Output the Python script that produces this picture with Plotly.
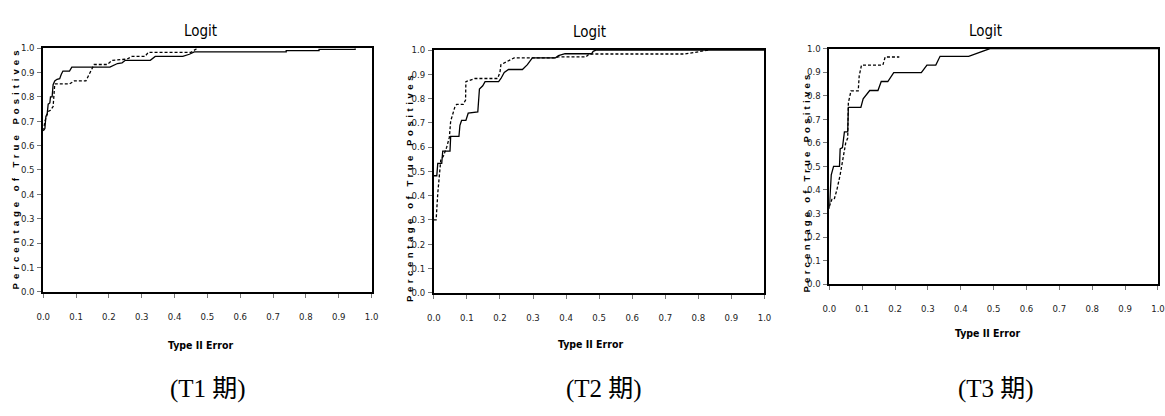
import json
import plotly.graph_objects as go

# ---------------- data ----------------
TICK_VALUES = [0.0, 0.1, 0.2, 0.3, 0.4, 0.5, 0.6, 0.7, 0.8, 0.9, 1.0]

T1_SOLID_X = [0, 0.005, 0.008, 0.012, 0.015, 0.02, 0.022, 0.027, 0.03, 0.035, 0.042, 0.05, 0.055, 0.06,
              0.08, 0.087, 0.203, 0.216, 0.226, 0.24, 0.25, 0.326, 0.341, 0.425, 0.445, 0.46, 0.74, 0.74,
              0.84, 0.84, 0.95, 0.95]
T1_SOLID_Y = [0.66, 0.67, 0.72, 0.73, 0.77, 0.775, 0.80, 0.80, 0.85, 0.865, 0.872, 0.875, 0.893, 0.906,
              0.906, 0.922, 0.922, 0.93, 0.937, 0.94, 0.95, 0.95, 0.966, 0.966, 0.975, 0.985, 0.985, 0.99,
              0.99, 0.995, 0.995, 1.0]
T1_DASH_X = [0, 0.005, 0.01, 0.015, 0.022, 0.025, 0.03, 0.035, 0.08, 0.095, 0.13, 0.14, 0.155, 0.195,
             0.21, 0.255, 0.27, 0.31, 0.32, 0.45, 0.46, 0.47]
T1_DASH_Y = [0.66, 0.70, 0.72, 0.74, 0.745, 0.75, 0.76, 0.853, 0.853, 0.866, 0.866, 0.893, 0.933, 0.933,
             0.95, 0.955, 0.966, 0.966, 0.983, 0.983, 0.993, 1.0]

T2_SOLID_X = [0, 0.009, 0.012, 0.024, 0.027, 0.049, 0.051, 0.076, 0.079, 0.084, 0.097, 0.104, 0.133,
              0.138, 0.148, 0.155, 0.196, 0.203, 0.213, 0.226, 0.268, 0.283, 0.298, 0.368, 0.377, 0.397,
              0.477, 0.482, 0.49, 1.0]
T2_SOLID_Y = [0.482, 0.482, 0.533, 0.533, 0.584, 0.584, 0.644, 0.644, 0.69, 0.71, 0.71, 0.74, 0.745,
              0.84, 0.853, 0.87, 0.87, 0.883, 0.908, 0.92, 0.92, 0.94, 0.968, 0.968, 0.977, 0.985,
              0.985, 0.995, 1.0, 1.0]
T2_DASH_X = [0, 0.007, 0.012, 0.017, 0.021, 0.03, 0.039, 0.047, 0.051, 0.064, 0.069, 0.089, 0.096,
             0.097, 0.124, 0.193, 0.2, 0.203, 0.223, 0.243, 0.37, 0.375, 0.46, 0.47, 0.76, 0.79, 0.8, 0.83]
T2_DASH_Y = [0.30, 0.30, 0.41, 0.48, 0.546, 0.566, 0.60, 0.64, 0.707, 0.767, 0.776, 0.776, 0.794,
             0.87, 0.883, 0.883, 0.908, 0.94, 0.954, 0.968, 0.968, 0.972, 0.972, 0.984, 0.984, 0.99,
             0.995, 1.0]

T3_SOLID_X = [0, 0.006, 0.013, 0.031, 0.033, 0.04, 0.046, 0.056, 0.058, 0.096, 0.103, 0.123, 0.148,
              0.158, 0.178, 0.196, 0.28, 0.297, 0.324, 0.337, 0.424, 0.489, 1.0]
T3_SOLID_Y = [0.32, 0.464, 0.50, 0.50, 0.574, 0.58, 0.646, 0.646, 0.75, 0.75, 0.787, 0.822, 0.822,
              0.86, 0.86, 0.898, 0.898, 0.93, 0.93, 0.967, 0.967, 1.0, 1.0]
T3_DASH_X = [0, 0.008, 0.015, 0.023, 0.033, 0.043, 0.05, 0.056, 0.058, 0.066, 0.088, 0.091, 0.098,
             0.163, 0.17, 0.213]
T3_DASH_Y = [0.33, 0.36, 0.36, 0.40, 0.464, 0.554, 0.60, 0.62, 0.77, 0.82, 0.82, 0.884, 0.93,
             0.93, 0.964, 0.964]

PANEL_TITLES = ["Logit", "Logit", "Logit"]
X_TITLE = "Type II Error"
Y_TITLE = "Percentage of True Positives"
CAPTIONS = ["(T1 期)", "(T2 期)", "(T3 期)"]

# ---------------- layout helpers ----------------
W, H = 1165, 416


def px(x):
    return x / W


def py(y):
    return 1 - y / H


# plot areas in pixels: (left, right, top, bottom)
AREAS = [(36.7, 369.0, 43.3, 293.5), (432.0, 766.7, 45.3, 294.5), (832.3, 1165.0, 43.7, 285.7)]
TITLE_POS = [(196, 26), (590, 27), (990, 26)]
YLAB_POS = [(15, 168, 243), (409, 187, 230), (806, 182, 221)]  # centre x, centre y, length
XLAB_POS = [(196, 348), (591, 347), (992, 336)]
CAP_POS = [(203, 393), (604, 393), (1001, 393)]

SERIES = [
    (T1_SOLID_X, T1_SOLID_Y, T1_DASH_X, T1_DASH_Y),
    (T2_SOLID_X, T2_SOLID_Y, T2_DASH_X, T2_DASH_Y),
    (T3_SOLID_X, T3_SOLID_Y, T3_DASH_X, T3_DASH_Y),
]

NARROW = "Liberation Sans Narrow, Arial Narrow, DejaVu Sans Condensed, sans-serif"

fig = go.Figure()
layout = dict(
    width=W, height=H, autosize=False,
    margin=dict(l=0, r=0, t=0, b=0),
    paper_bgcolor="white", plot_bgcolor="white",
    showlegend=False,
    annotations=[],
)

for i, (sx, sy, dx, dy) in enumerate(SERIES):
    n = "" if i == 0 else str(i + 1)
    xa, ya = "x" + n, "y" + n
    fig.add_trace(go.Scatter(x=sx, y=sy, mode="lines", xaxis=xa, yaxis=ya,
                             line=dict(color="black", width=1.3), hoverinfo="skip"))
    fig.add_trace(go.Scatter(x=dx, y=dy, mode="lines", xaxis=xa, yaxis=ya,
                             line=dict(color="black", width=1.3, dash="3px,2px"), hoverinfo="skip"))
    l, r, t, b = AREAS[i]
    common = dict(range=[0, 1], showgrid=False, zeroline=False, showline=True, linecolor="black",
                  linewidth=1.6, mirror=True, ticks="outside", tickcolor="#777", ticklen=4,
                  tickvals=TICK_VALUES, tickformat=".1f",
                  tickfont=dict(family=NARROW, size=9.5, color="#222"))
    layout["xaxis" + n] = dict(common, domain=[px(l), px(r)], anchor=ya, ticklabelstandoff=11,
                               ticklabeloverflow="allow")
    layout["yaxis" + n] = dict(common, domain=[py(b), py(t)], anchor=xa, ticklabelstandoff=1)

    layout["annotations"] += [
        dict(text=PANEL_TITLES[i], x=px(TITLE_POS[i][0]), y=py(TITLE_POS[i][1]), xref="paper", yref="paper",
             showarrow=False, xanchor="center", yanchor="middle",
             font=dict(family=NARROW, size=15, color="black")),
        dict(text=Y_TITLE, x=px(YLAB_POS[i][0]), y=py(YLAB_POS[i][1]), xref="paper", yref="paper",
             showarrow=False, textangle=-90, xanchor="center", yanchor="middle",
             font=dict(family="Liberation Sans, Arial, sans-serif", size=9.5, color="black", weight="bold")),
        dict(text=X_TITLE, x=px(XLAB_POS[i][0]), y=py(XLAB_POS[i][1]), xref="paper", yref="paper",
             showarrow=False, xanchor="center", yanchor="middle",
             font=dict(family=NARROW, size=10.5, color="black", weight="bold")),
        dict(text=CAPTIONS[i], x=px(CAP_POS[i][0]), y=py(CAP_POS[i][1]), xref="paper", yref="paper",
             showarrow=False, xanchor="center", yanchor="middle",
             font=dict(family="Liberation Serif, Times New Roman, Noto Sans CJK TC, serif", size=25,
                       color="black")),
    ]

fig.update_layout(**layout)

# widen the letter spacing of the rotated y-axis labels as in the reference and
# re-centre them on their target positions
POST = """
document.body.style.margin = '0';
var gd = document.getElementById('{plot_id}');
var targets = TARGETS;
var k = 0;
gd.querySelectorAll('text.annotation-text').forEach(function (t) {
  if (t.textContent !== 'Percentage of True Positives') { return; }
  var tg = targets[k++];
  if (!tg) { return; }
  var r0 = t.getBoundingClientRect();
  var n = t.textContent.length;
  var sp = (tg[2] - r0.height) / n;
  t.style.letterSpacing = sp + 'px';
  var r = t.getBoundingClientRect();
  var g = gd.getBoundingClientRect();
  var cx = (r.left + r.right) / 2 - g.left;
  var cy = (r.top + r.bottom) / 2 - g.top;
  var sx = tg[0] - cx, sy = tg[1] - cy;
  var prev = t.getAttribute('transform') || '';
  t.setAttribute('transform', 'translate(' + (-sy) + ',' + sx + ') ' + prev);
});
""".replace("TARGETS", json.dumps(YLAB_POS))

fig.write_html("out.html", post_script=POST, config={"displayModeBar": False})
